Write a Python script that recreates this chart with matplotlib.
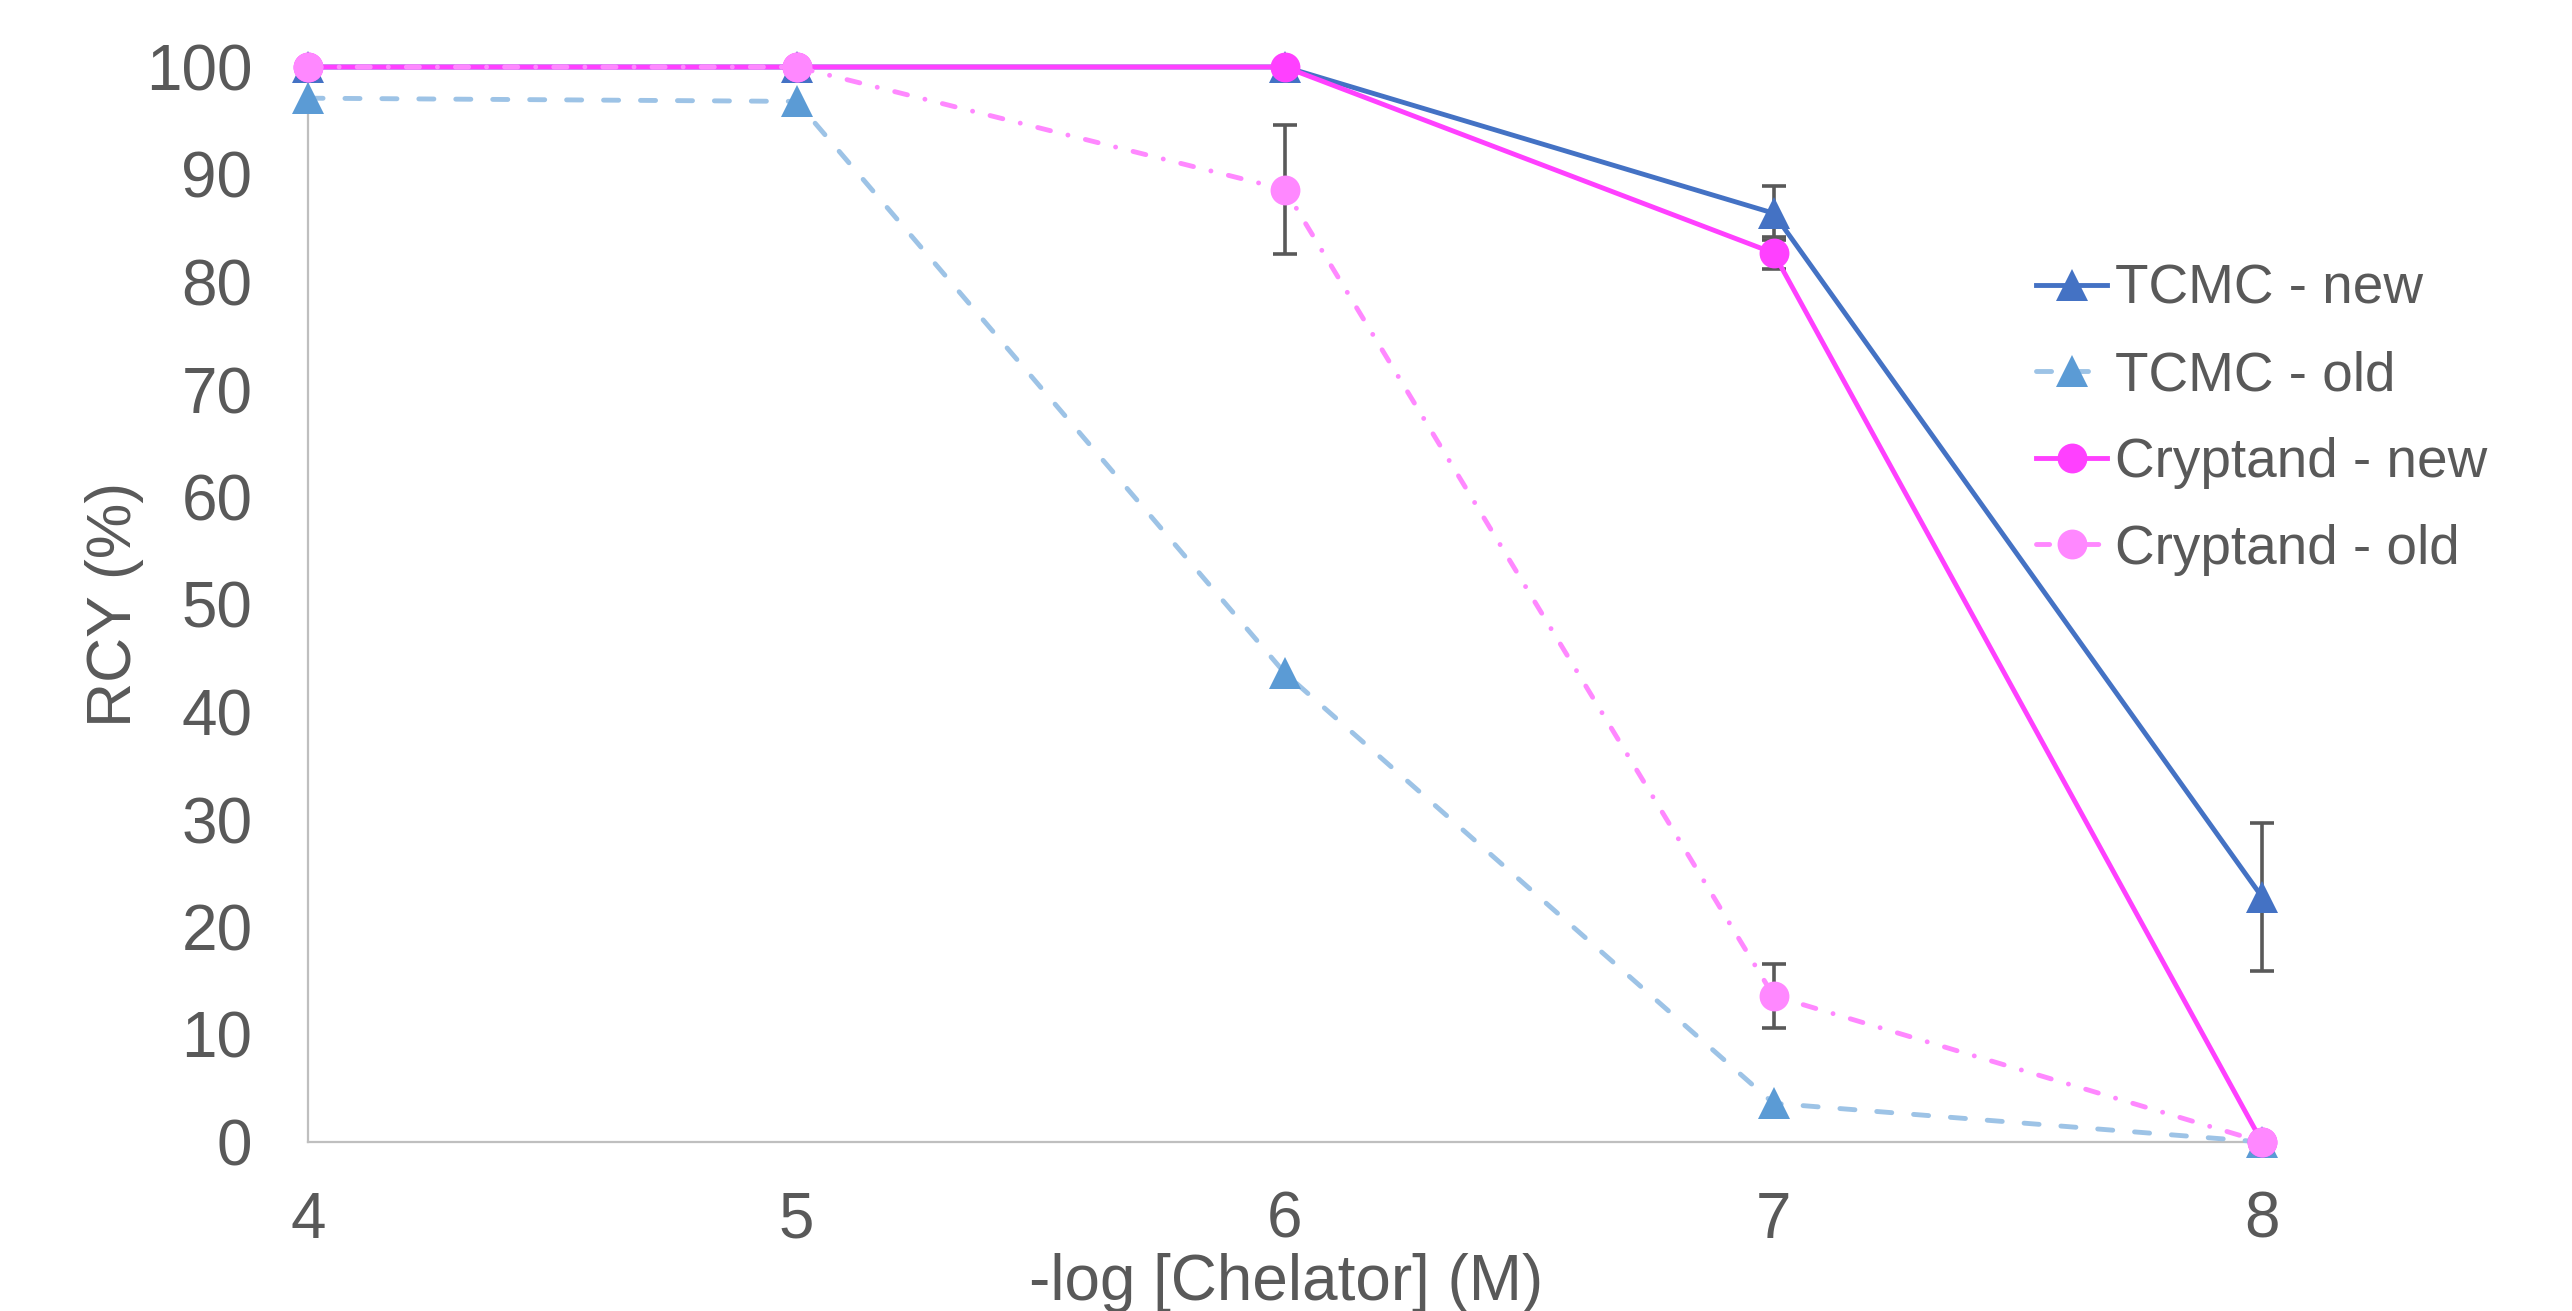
import matplotlib
matplotlib.use("Agg")
import matplotlib.pyplot as plt

plt.rcParams['font.family'] = ['Liberation Sans', 'DejaVu Sans']

x = [4, 5, 6, 7, 8]
tcmc_new = [100, 100, 100, 86.4, 22.8]
tcmc_new_err = [0, 0, 0, 2.5, 6.9]
tcmc_old = [97.1, 96.8, 43.6, 3.6, 0]
tcmc_old_err = [0, 0, 0, 0, 0]
cry_new = [100, 100, 100, 82.7, 0]
cry_new_err = [0, 0, 0, 1.5, 0]
cry_old = [100, 100, 88.6, 13.6, 0]
cry_old_err = [0, 0, 6.0, 3.0, 0]

labels = ["TCMC - new", "TCMC - old", "Cryptand - new", "Cryptand - old"]
yticks = list(range(0, 101, 10))
xticks = [4, 5, 6, 7, 8]

text_c = '#595959'
W, H = 2572, 1311
fig = plt.figure(figsize=(W / 100, H / 100), dpi=100)
ax = fig.add_axes([308 / W, 1 - 1142 / H, (2262 - 308) / W, (1142 - 67) / H])

lw = 3.5
# error bars beneath
for ys, es in [(tcmc_new, tcmc_new_err), (tcmc_old, tcmc_old_err),
               (cry_new, cry_new_err), (cry_old, cry_old_err)]:
    xs = [xi for xi, e in zip(x, es) if e > 0]
    yv = [yi for yi, e in zip(ys, es) if e > 0]
    ev = [e for e in es if e > 0]
    if xs:
        ax.errorbar(xs, yv, yerr=ev, fmt='none', ecolor=text_c, elinewidth=2.6,
                    capsize=8.5, capthick=2.6, zorder=1, clip_on=False)

h1, = ax.plot(x, tcmc_new, color='#4472C4', lw=lw, marker='^', ms=23,
              markeredgewidth=0, label=labels[0], zorder=2, clip_on=False)
h2, = ax.plot(x, tcmc_old, color='#9DC3E6', lw=lw, marker='^', ms=23,
              markerfacecolor='#5B9BD5', markeredgewidth=0,
              dashes=(3.1, 4.5), dash_capstyle='round',
              label=labels[1], zorder=2, clip_on=False)
h3, = ax.plot(x, cry_new, color='#FF40FF', lw=lw, marker='o', ms=21.5,
              markeredgewidth=0, label=labels[2], zorder=2, clip_on=False)
h4, = ax.plot(x, cry_old, color='#FF88FF', lw=lw, marker='o', ms=21.5,
              markeredgewidth=0, dashes=(2.7, 3.7, 0.01, 3.7), dash_capstyle='round',
              label=labels[3], zorder=2, clip_on=False)

ax.set_xlim(4, 8)
ax.set_ylim(0, 100)
ax.set_xticks(xticks)
ax.set_yticks(yticks)
ax.tick_params(axis='both', length=0, labelsize=46, labelcolor=text_c)
ax.tick_params(axis='y', pad=40)
ax.tick_params(axis='x', pad=35)
for s in ['top', 'right']:
    ax.spines[s].set_visible(False)
for s in ['left', 'bottom']:
    ax.spines[s].set_color('#BFBFBF')
    ax.spines[s].set_linewidth(1.6)
    ax.spines[s].set_zorder(0.5)

fig.text(1286 / W, 1 - 1283 / H, "-log [Chelator] (M)", ha='center', va='center',
         fontsize=46, color=text_c)
fig.text(115 / W, 1 - 604 / H, "RCY (%)", ha='center', va='center', rotation=90,
         fontsize=45, color=text_c)

leg = fig.legend(handles=[h1, h2, h3, h4], loc='upper left',
                 bbox_to_anchor=(2014 / W, 1 - 242 / H), frameon=False,
                 fontsize=39.5, labelcolor=text_c, handlelength=1.3,
                 handletextpad=0.15, labelspacing=0.63, borderaxespad=0)

fig.savefig("out.png", dpi=100, facecolor='white')
